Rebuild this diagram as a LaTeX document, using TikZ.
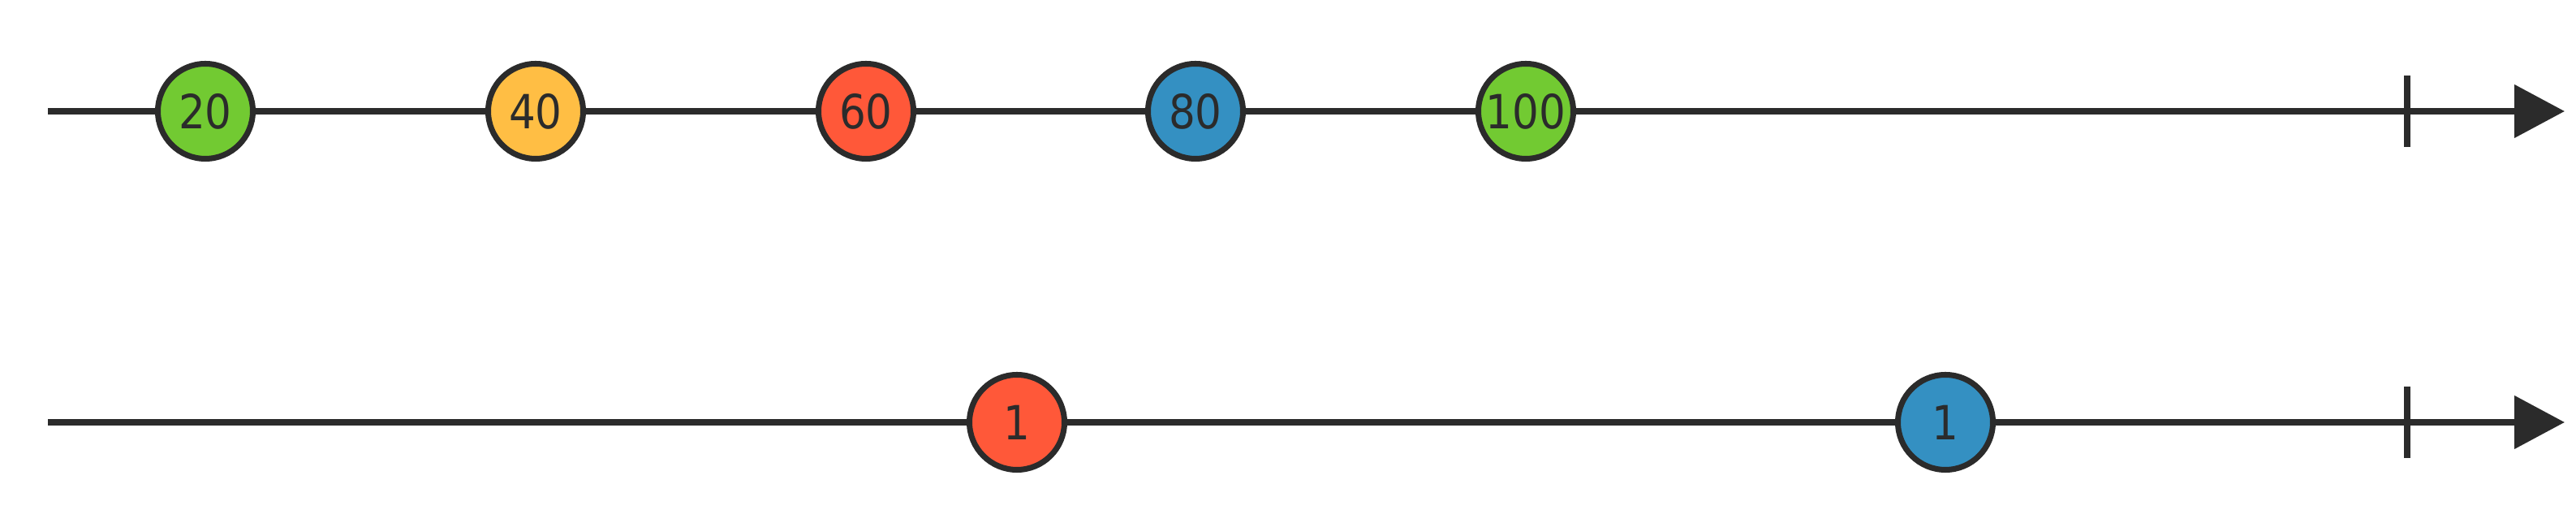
\documentclass[tikz,border=0pt]{standalone}
\usepackage{fontspec}
\setmainfont{DejaVu Sans}
\newfontfamily\marblefont[Scale=1.65,FakeStretch=0.89]{DejaVu Sans}
\usetikzlibrary{arrows.meta}
\definecolor{ink}{HTML}{2B2B2B}
\definecolor{marble_green}{HTML}{72CA32}
\definecolor{marble_yellow}{HTML}{FFBE44}
\definecolor{marble_red}{HTML}{FF5839}
\definecolor{marble_blue}{HTML}{3490C2}
\begin{document}
\begin{tikzpicture}[marble_node/.style={circle,draw=ink,line width=2pt,minimum size=1.17cm,inner sep=0pt,text=ink,font=\marblefont},
	time_line/.style={draw=ink,line width=2.3pt,-{Triangle[length=6.2mm,width=6.4mm]}},
	tick_mark/.style={draw=ink,line width=2.3pt}]
				\useasboundingbox (0,0) rectangle (31.74,6.44);

				\begin{scope}[yshift=5.07cm] %upper timeline
					\coordinate (s) at (0.59,0);
					\coordinate (e) at (31.60,0);
					\coordinate (t) at (29.66,0);
					\path[time_line] (s) -- (e);
					\path[tick_mark] ([yshift=0.44cm]t) -- ([yshift=-0.44cm]t);

					\node[marble_node,fill=marble_green] (1) at (2.53,0){20};
					\node[marble_node,fill=marble_yellow] (2) at (6.60,0){40};
					\node[marble_node,fill=marble_red] (3) at (10.67,0){60};
					\node[marble_node,fill=marble_blue] (4) at (14.73,0){80};
					\node[marble_node,fill=marble_green] (5) at (18.80,0){100};
				\end{scope}


				\begin{scope}[yshift=1.24cm] %lower timeline
					\coordinate (s) at (0.59,0);
					\coordinate (e) at (31.60,0);
					\coordinate (t) at (29.66,0);
					\path[time_line] (s) -- (e);
					\path[tick_mark] ([yshift=0.44cm]t) -- ([yshift=-0.44cm]t);

					\node[marble_node,fill=marble_red] (1) at (12.53,0){1};
					\node[marble_node,fill=marble_blue] (2) at (23.97,0){1};
				\end{scope}
				\end{tikzpicture}
\end{document}
